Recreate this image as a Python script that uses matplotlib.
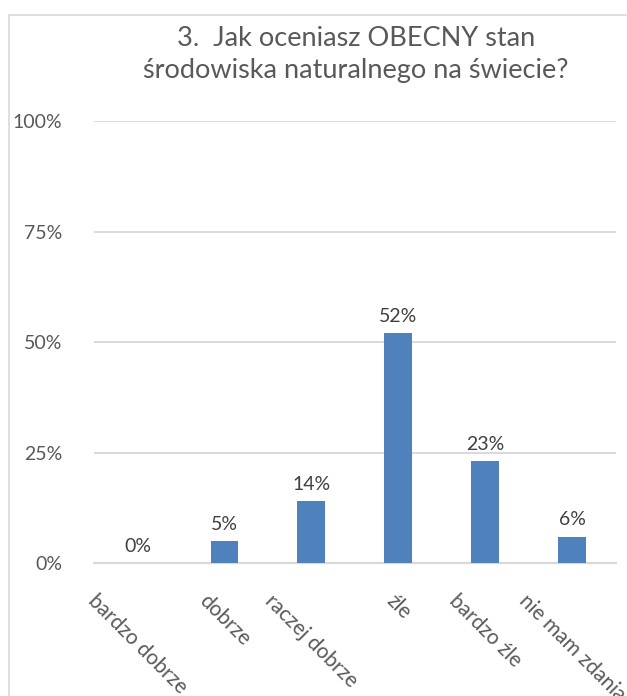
import matplotlib.pyplot as plt
from matplotlib.patches import Rectangle

categories = ['bardzo dobrze', 'dobrze', 'raczej dobrze', 'źle', 'bardzo źle', 'nie mam zdania']
values = [0, 5, 14, 52, 23, 6]
yticks = [0, 25, 50, 75, 100]
title = '3.  Jak oceniasz OBECNY stan\nśrodowiska naturalnego na świecie?'

plt.rcParams['font.family'] = ['Lato', 'DejaVu Sans']
grey = '#595959'

fig = plt.figure(figsize=(6.27, 6.96), dpi=100)
ax = fig.add_axes([0.150, 0.191, 0.832, 0.635])

# chart frame, cut off at the right and bottom like the reference
fig.patches.append(Rectangle((9 / 627, -0.1), 1.2, 0.1 + 1 - 15 / 696, transform=fig.transFigure,
                             fill=False, edgecolor='#D9D9D9', linewidth=1.2))

x = range(len(categories))
ax.bar(x, values, width=0.32, color='#4F81BD', zorder=3)
for i, v in enumerate(values):
    ax.annotate(f'{v}%', (i, v), xytext=(0, 6), textcoords='offset points',
                ha='center', va='bottom', fontsize=14, color='#404040')

ax.set_xlim(-0.5, len(categories) - 0.5)
ax.set_ylim(0, 100)
ax.set_yticks(yticks)
ax.set_yticklabels([f'{t}%' for t in yticks])
ax.set_xticks(list(x))
ax.set_xticklabels(categories, rotation=-45, ha='center', va='top', rotation_mode='default')
ax.tick_params(axis='both', length=0, labelsize=14, labelcolor=grey)
ax.tick_params(axis='x', labelsize=15, pad=20)
ax.tick_params(axis='y', pad=23)
ax.grid(axis='y', color='#D9D9D9', linewidth=1.4, zorder=0)
for s in ['top', 'right', 'left']:
    ax.spines[s].set_visible(False)
ax.spines['bottom'].set_color('#D9D9D9')
ax.spines['bottom'].set_linewidth(1.6)

fig.text(0.568, 0.922, title, ha='center', va='center', fontsize=19.5, color=grey, linespacing=1.35)

fig.savefig('out.png', dpi=100)
